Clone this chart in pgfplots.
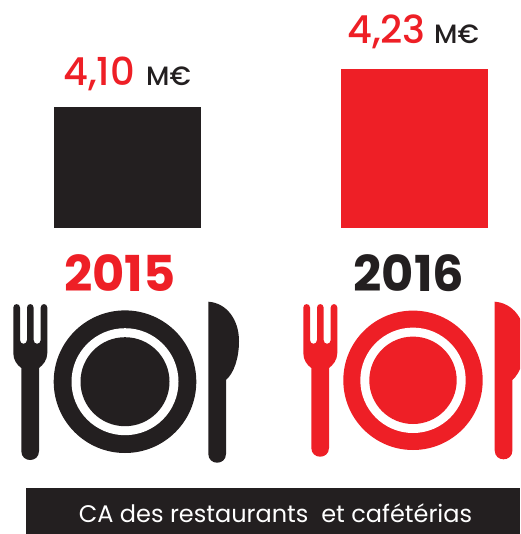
\documentclass[border=0pt]{standalone}
\usepackage{pgfplots}
\pgfplotsset{compat=1.18}
\usepackage{fontspec}
\setmainfont{Poppins}
\newfontfamily\popb{Poppins}[UprightFont=* Bold]
\newfontfamily\popm{Poppins}[UprightFont=* Medium]
\definecolor{cred}{HTML}{EE1F26}
\definecolor{cblk}{HTML}{231F20}
\pgfplotstableread{
x y
0 4.10
}\tabA
\pgfplotstableread{
x y
1 4.23
}\tabB
% color, fork dx, fork bottom, knife dx, knife bottom, plate cx, cy, r1, r2, r3
\newcommand{\setting}[9]{%
  \begin{scope}[shift={(#2,0)}]
  \fill[#1] (13.3,307.5) .. controls (13.3,303) and (20,303) .. (20,307.5)
    -- (20,340) .. controls (20,345) and (27,345) .. (27,340)
    -- (27,307.5) .. controls (27,303) and (33.6,303) .. (33.6,307.5)
    -- (33.6,340) .. controls (33.6,345) and (40.7,345) .. (40.7,340)
    -- (40.7,307.5) .. controls (40.7,303) and (47.3,303) .. (47.3,307.5)
    -- (47.3,353) .. controls (47.3,360) and (43,365) .. (39,368)
    -- (39,#3-8.85) .. controls (39,#3+2.95) and (21.3,#3+2.95) .. (21.3,#3-8.85)
    -- (21.3,368) .. controls (17,365) and (13.3,360) .. (13.3,353) -- cycle;
  \end{scope}
  \begin{scope}[shift={(#4,0)}]
  \fill[#1] (208.3,301.7) .. controls (227,303) and (239,320) .. (239,341)
    .. controls (239,358) and (234,373) .. (226,380)
    -- (226,#5-8.85) .. controls (226,#5+2.95) and (208.3,#5+2.95) .. (208.3,#5-8.85) -- cycle;
  \end{scope}
  \fill[#1] (#6,#7) circle[radius=#8pt];
  \fill[white] (#6,#7) circle[radius=#9pt];
}
\begin{document}
\begin{tikzpicture}[x=1pt,y=-1pt]
\path (0,0) rectangle (520,534);
\begin{scope}
\clip (0,0) rectangle (520,534);
\setting{cblk}{0}{460}{0}{462.7}{125}{381.7}{71.3}{53.5}
\fill[cblk] (125,381.7) circle[radius=44.5pt];
\setting{cred}{290}{456.7}{286.4}{459.3}{413}{380.3}{69.7}{52.7}
\fill[cred] (413,380.3) circle[radius=43.7pt];
\fill[cblk] (26,488) rectangle (520,534);
\end{scope}
\begin{axis}[at={(0pt,-228pt)},anchor=south west,scale only axis,width=520pt,height=228pt,
  hide axis,xmin=-0.44425,xmax=1.36760,ymin=3.686,ymax=4.466,
  ybar,bar width=147pt,bar shift=0pt,clip=false]
\addplot[fill=cblk,draw=none] table[x=x,y=y] {\tabA};
\addplot[fill=cred,draw=none] table[x=x,y=y] {\tabB};
\end{axis}
\node[anchor=base,text=white,font=\fontsize{24}{24}\selectfont,inner sep=0pt] at (275.5,522.7) {CA des restaurants\ \ et cafétérias};
\node[anchor=base west,inner sep=0pt,text=cred,font=\popm\fontsize{38.5}{38.5}\selectfont] at (63,86) {4,10};
\node[anchor=base west,inner sep=0pt,text=cblk,font=\popm\fontsize{26.5}{26.5}\selectfont] at (146,86) {M€};
\node[anchor=base west,inner sep=0pt,text=cred,font=\popm\fontsize{38.5}{38.5}\selectfont] at (347,44) {4,23};
\node[anchor=base west,inner sep=0pt,text=cblk,font=\popm\fontsize{26.5}{26.5}\selectfont] at (434,44) {M€};
\node[anchor=base,inner sep=0pt,text=cred,font=\popb\fontsize{49.5}{49.5}\selectfont] at (120,291) {2015};
\node[anchor=base,inner sep=0pt,text=cblk,font=\popb\fontsize{49.5}{49.5}\selectfont] at (409,291) {2016};
\end{tikzpicture}
\end{document}
